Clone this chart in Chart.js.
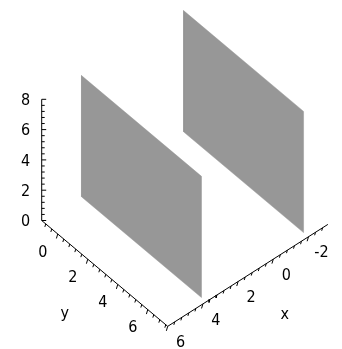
<!DOCTYPE html>
<html>
<head>
<meta charset="utf-8">
<script src="https://cdn.jsdelivr.net/npm/chart.js@4.4.0/dist/chart.umd.min.js"></script>
<style>
  html, body { margin: 0; padding: 0; background: #fff; }
  #wrap { width: 342px; height: 349px; }
</style>
</head>
<body>
<div id="wrap"><canvas id="grafico" width="342" height="349"></canvas></div>
<script>
// two vertical planes x = const
const planosX = [3.8, -2];
const planoY = [-1, 7];
const planoZ = [0, 8];

// limits of the framed box
const limX = [-3.1, 6];
const limY = [-1.07, 7.33];
const limZ = [0, 8];

const ticksX = [-2, 0, 2, 4, 6];
const ticksY = [0, 2, 4, 6];
const ticksZ = [0, 2, 4, 6, 8];
const passoMenor = 0.4;

// fixed view: screen units per data unit along each axis
const canto = { u: 41.7, v: 220.5 };   // corner (limX[1], limY[0], 0)
const ex = [-17.6, 11.2], ey = [15.0, 12.6], ez = [0, -15.15];

function proj(x, y, z) {
  const dx = x - limX[1], dy = y - limY[0];
  return {
    x: canto.u + dx * ex[0] + dy * ey[0] + z * ez[0],
    y: canto.v + dx * ex[1] + dy * ey[1] + z * ez[1]
  };
}

const cinza = "#979797";

// planes as closed polygons
const dsPlanos = planosX.map(x => ({
  data: [
    proj(x, planoY[0], planoZ[0]),
    proj(x, planoY[1], planoZ[0]),
    proj(x, planoY[1], planoZ[1]),
    proj(x, planoY[0], planoZ[1]),
    proj(x, planoY[0], planoZ[0])
  ],
  showLine: true,
  fill: "shape",
  backgroundColor: cinza,
  borderColor: cinza,
  borderWidth: 0.5,
  pointRadius: 0
}));

// axis lines: z at the back corner, y along the left edge, x along the front edge
const eixos = [
  [proj(limX[1], limY[0], limZ[0]), proj(limX[1], limY[0], limZ[1])],
  [proj(limX[1], limY[0], 0), proj(limX[1], limY[1], 0)],
  [proj(limX[1], limY[1], 0), proj(limX[0], limY[1], 0)]
];

function multiplos(a, b, passo) {
  const out = [];
  for (let k = Math.ceil(a / passo - 1e-6); k * passo <= b + 1e-6; k++) out.push(+(k * passo).toFixed(4));
  return out;
}
function ehMaior(v) { return Math.abs(v / 2 - Math.round(v / 2)) < 1e-6; }

// tick marks as short segments separated by gaps
const marcas = [];
multiplos(limZ[0], limZ[1], passoMenor).forEach(z => {
  const p = proj(limX[1], limY[0], z), L = ehMaior(z) ? 4.5 : 3;
  marcas.push(p, { x: p.x + L, y: p.y }, { x: NaN, y: NaN });
});
multiplos(limY[0], limY[1], passoMenor).forEach(y => {
  const p = proj(limX[1], y, 0), L = ehMaior(y) ? 4.5 : 3;
  marcas.push(p, { x: p.x - L * 0.3, y: p.y + L }, { x: NaN, y: NaN });
});
multiplos(limX[0], limX[1], passoMenor).forEach(x => {
  const p = proj(x, limY[1], 0), L = ehMaior(x) ? 4.5 : 3;
  marcas.push(p, { x: p.x - L * 0.3, y: p.y + L }, { x: NaN, y: NaN });
});

const linha = { showLine: true, borderColor: "#000", borderWidth: 1, pointRadius: 0, fill: false, spanGaps: false };

const rotulos = {
  id: "rotulos",
  afterDatasetsDraw(chart) {
    const { ctx, scales } = chart;
    const px = p => [scales.x.getPixelForValue(p.x), scales.y.getPixelForValue(p.y)];
    ctx.save();
    ctx.fillStyle = "#000";
    ctx.font = "16px 'DejaVu Sans Condensed', 'Liberation Sans Narrow', sans-serif";
    ctx.textAlign = "center";
    ctx.textBaseline = "middle";
    const escreve = (t, p, du, dv) => {
      const [a, b] = px({ x: p.x + du, y: p.y + dv });
      ctx.fillText(t, a, b);
    };
    ticksZ.forEach(z => escreve(String(z), proj(limX[1], limY[0], z), -16, 1.5));
    ticksY.forEach(y => escreve(String(y), proj(limX[1], y, 0), -15, 18.5));
    ticksX.forEach(x => escreve(String(x), proj(x, limY[1], 0), 13, 16.5));
    const yMeio = proj(limX[1], (limY[0] + limY[1]) / 2, 0);
    const xMeio = proj((limX[0] + limX[1]) / 2, limY[1], 0);
    escreve("y", yMeio, -40, 40);
    escreve("x", xMeio, 37, 39);
    ctx.restore();
  }
};

new Chart(document.getElementById("grafico").getContext("2d"), {
  type: "scatter",
  data: {
    datasets: [
      ...dsPlanos,
      ...eixos.map(seg => ({ ...linha, data: seg })),
      { ...linha, data: marcas }
    ]
  },
  options: {
    responsive: false,
    animation: false,
    layout: { padding: 0 },
    elements: { line: { tension: 0 } },
    plugins: { legend: { display: false }, tooltip: { enabled: false } },
    scales: {
      x: { type: "linear", min: 0, max: 342, display: false },
      y: { type: "linear", min: 0, max: 349, reverse: true, display: false }
    }
  },
  plugins: [rotulos]
});
</script>
</body>
</html>
